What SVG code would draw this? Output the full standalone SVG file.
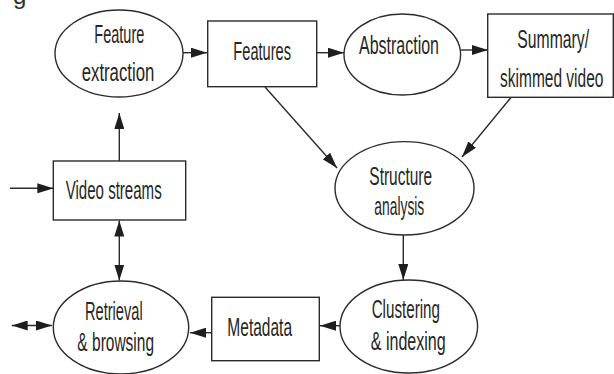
<svg xmlns="http://www.w3.org/2000/svg" width="614" height="374" viewBox="0 0 614 374">
<style>
  .shape { fill: #ffffff; stroke: #2b2b2b; stroke-width: 1.4; }
  .lbl { font-family: "Liberation Sans", Arial, sans-serif; font-size: 26px; fill: #262626; text-anchor: middle; }
  .conn { stroke: #2b2b2b; stroke-width: 1.4; fill: none; }
  .frag { font-family: "Liberation Sans", sans-serif; font-size: 24px; fill: #2e2e2e; }
</style>
<defs>
  <marker id="ah" markerUnits="userSpaceOnUse" markerWidth="16" markerHeight="10" viewBox="0 0 16 10" refX="16" refY="5" orient="auto-start-reverse">
    <path d="M0,0 L16,5 L0,10 z" fill="#1e1e1e"/>
  </marker>
</defs>
<rect width="614" height="374" fill="#ffffff"/>
<text class="frag" x="13" y="4">g</text>

<g id="connectors">
  <line class="conn" x1="119.3" y1="161" x2="119.3" y2="113" marker-end="url(#ah)"/>
  <line class="conn" x1="183" y1="52.7" x2="207" y2="52.7" marker-end="url(#ah)"/>
  <line class="conn" x1="317" y1="52.7" x2="344" y2="52.7" marker-end="url(#ah)"/>
  <line class="conn" x1="461" y1="50" x2="488" y2="50" marker-end="url(#ah)"/>
  <line class="conn" x1="265" y1="87" x2="337" y2="168" marker-end="url(#ah)"/>
  <line class="conn" x1="511" y1="97.5" x2="462" y2="157" marker-end="url(#ah)"/>
  <line class="conn" x1="403.3" y1="235" x2="403.3" y2="280" marker-end="url(#ah)"/>
  <line class="conn" x1="340" y1="325.7" x2="320" y2="325.7" marker-end="url(#ah)"/>
  <line class="conn" x1="212" y1="332.7" x2="190" y2="332.7" marker-end="url(#ah)"/>
  <line class="conn" x1="11.7" y1="325.5" x2="52" y2="325.5" marker-start="url(#ah)" marker-end="url(#ah)"/>
  <line class="conn" x1="119.3" y1="220.5" x2="119.3" y2="280.5" marker-start="url(#ah)" marker-end="url(#ah)"/>
  <line class="conn" x1="10" y1="188.3" x2="53.3" y2="188.3" marker-end="url(#ah)"/>
</g>

<g id="feature-extraction">
  <ellipse class="shape" cx="119" cy="53.5" rx="64" ry="43.5"/>
  <text class="lbl" transform="translate(119.3,43.3) scale(0.6,1)" textLength="83.3" lengthAdjust="spacingAndGlyphs">Feature</text>
  <text class="lbl" transform="translate(118,80.7) scale(0.6,1)" textLength="121" lengthAdjust="spacingAndGlyphs">extraction</text>
</g>

<g id="features">
  <rect class="shape" x="207.7" y="21" width="109" height="65.7"/>
  <text class="lbl" transform="translate(262.2,60) scale(0.6,1)" textLength="96.2" lengthAdjust="spacingAndGlyphs">Features</text>
</g>

<g id="abstraction">
  <ellipse class="shape" cx="402.3" cy="54.5" rx="58.3" ry="40.5"/>
  <text class="lbl" transform="translate(399,54.3) scale(0.6,1)" textLength="133.3" lengthAdjust="spacingAndGlyphs">Abstraction</text>
</g>

<g id="summary">
  <rect class="shape" x="487.7" y="14" width="125.6" height="83.3"/>
  <text class="lbl" transform="translate(553.2,48.3) scale(0.6,1)" textLength="119.5" lengthAdjust="spacingAndGlyphs">Summary/</text>
  <text class="lbl" transform="translate(551.7,87.3) scale(0.6,1)" textLength="172.2" lengthAdjust="spacingAndGlyphs">skimmed video</text>
</g>

<g id="structure-analysis">
  <ellipse class="shape" cx="404.5" cy="188.3" rx="69.5" ry="46.7"/>
  <text class="lbl" transform="translate(400.7,185) scale(0.6,1)" textLength="104.5" lengthAdjust="spacingAndGlyphs">Structure</text>
  <text class="lbl" transform="translate(399.3,214.5) scale(0.6,1)" textLength="83.3" lengthAdjust="spacingAndGlyphs">analysis</text>
</g>

<g id="video-streams">
  <rect class="shape" x="53.3" y="161" width="132.4" height="59"/>
  <text class="lbl" transform="translate(113.7,199) scale(0.6,1)" textLength="160" lengthAdjust="spacingAndGlyphs">Video streams</text>
</g>

<g id="retrieval-browsing">
  <ellipse class="shape" cx="121" cy="327.5" rx="67.7" ry="46.5"/>
  <text class="lbl" transform="translate(113.8,320) scale(0.6,1)" textLength="96.2" lengthAdjust="spacingAndGlyphs">Retrieval</text>
  <text class="lbl" transform="translate(115.7,351) scale(0.6,1)" textLength="127.8" lengthAdjust="spacingAndGlyphs">&amp; browsing</text>
</g>

<g id="metadata">
  <rect class="shape" x="211.7" y="297.3" width="107.6" height="63.4"/>
  <text class="lbl" transform="translate(259.7,336) scale(0.6,1)" textLength="107.8" lengthAdjust="spacingAndGlyphs">Metadata</text>
</g>

<g id="clustering-indexing">
  <ellipse class="shape" cx="408.8" cy="326.5" rx="68.8" ry="46.5"/>
  <text class="lbl" transform="translate(405.8,318.3) scale(0.6,1)" textLength="113.8" lengthAdjust="spacingAndGlyphs">Clustering</text>
  <text class="lbl" transform="translate(408.2,350) scale(0.6,1)" textLength="125" lengthAdjust="spacingAndGlyphs">&amp; indexing</text>
</g>
</svg>
